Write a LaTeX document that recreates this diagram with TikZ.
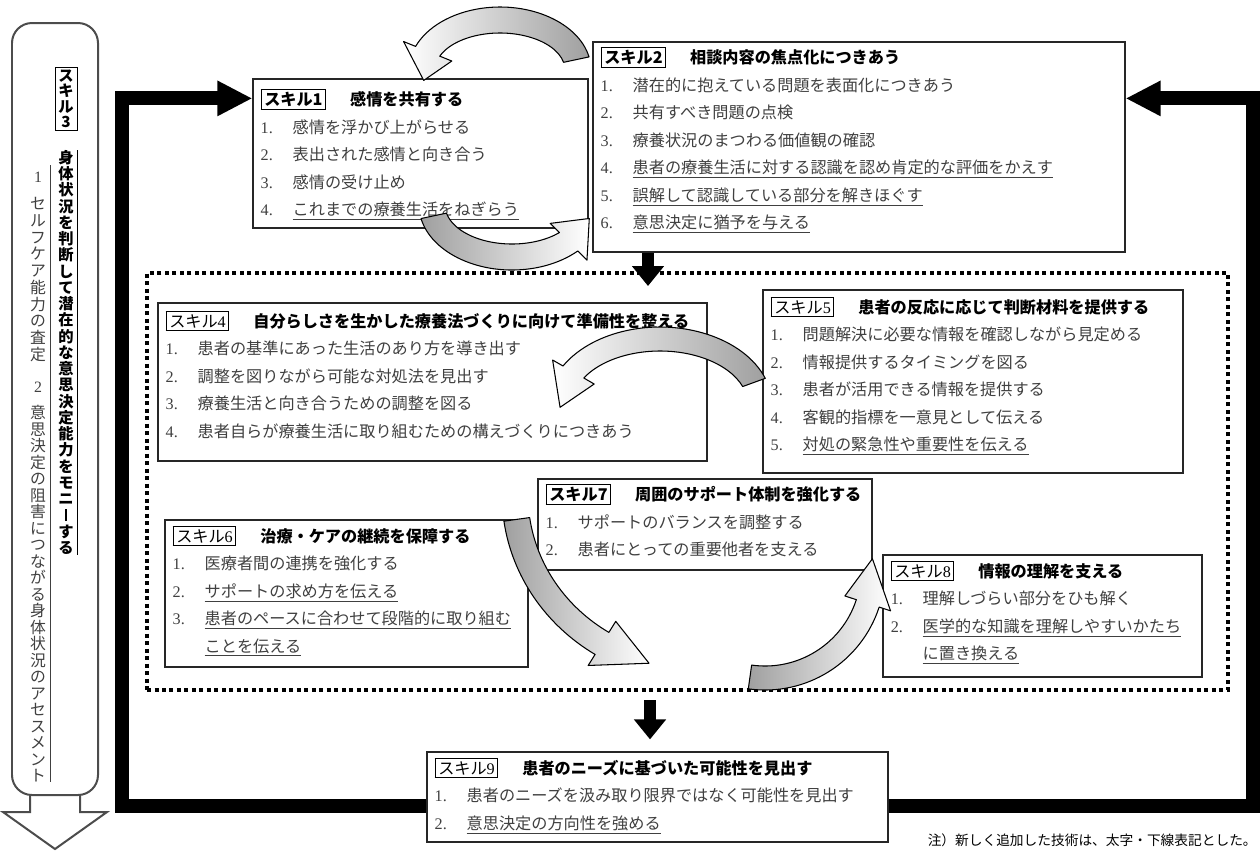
\documentclass[tikz,border=0pt]{standalone}
\usepackage{fontspec}
\usepackage{graphicx}
\setmainfont{Liberation Serif}
\newfontfamily\jp{Noto Sans CJK JP}
\usetikzlibrary{arrows.meta,calc,fit,positioning}
\setlength\fboxsep{1.5pt}
\setlength\fboxrule{0.5pt}

\newcommand\vstack[2]{\vbox{\baselineskip=#1\relax\lineskiplimit=-20pt\vstackA#2\relax}}
\def\vstackA#1{\ifx\relax#1\else\hbox to 1.1em{\hss#1\hss}\expandafter\vstackA\fi}
\newcommand\vbar{\rule[-0.02em]{0.11em}{0.82em}}
\newcommand\lab[1]{\fbox{#1}}
\newcommand\itm[2]{{\color{black!75}\makebox[0.64cm][l]{\rmfamily #1}#2}}
\newcommand\itmu[2]{{\color{black!75}\makebox[0.64cm][l]{\rmfamily #1}\underline{#2}}}
\newcommand\itmc[1]{{\color{black!75}\hspace*{0.64cm}\underline{#1}}}
\newcommand\bentarrow[9]{%
  \pgfmathsetmacro\rxo{#3+#8}\pgfmathsetmacro\ryo{#4+#8}%
  \pgfmathsetmacro\rxi{#3-#8}\pgfmathsetmacro\ryi{#4-#8}%
  \shadedraw[bent,#9]
    ({#1+\rxo*cos(#5)},{#2+\ryo*sin(#5)})
    arc[start angle=#5, end angle=#6, x radius=\rxo, y radius=\ryo]
    -- ({#1+(#3+2*#8)*cos(#6)},{#2+(#4+2*#8)*sin(#6)})
    -- ({#1+#3*cos(#7)},{#2+#4*sin(#7)})
    -- ({#1+(#3-2*#8)*cos(#6)},{#2+(#4-2*#8)*sin(#6)})
    -- ({#1+\rxi*cos(#6)},{#2+\ryi*sin(#6)})
    arc[start angle=#6, end angle=#5, x radius=\rxi, y radius=\ryi]
    -- cycle;}

\tikzset{
  skillbox/.style={draw=black!85, line width=0.7pt, fill=white, inner sep=0pt},
  skilltext/.style={anchor=north west, inner sep=0pt, align=left,
    font=\jp\fontsize{9.2pt}{15.65pt}\selectfont},
  dotframe/.style={draw, line width=0.08cm, dash pattern=on 0.08cm off 0.07cm, inner sep=0pt},
  frame/.style={line width=0.28cm, line join=miter, -{Triangle[length=0.7cm,width=0.66cm]}},
  drop/.style={line width=0.24cm, -{Triangle[length=0.4cm,width=0.62cm]}},
  bent/.style={draw=black, line width=0.6pt, line join=round},
  k3line/.style={draw=black!70, line width=0.04cm, line join=miter},
  vbold/.style={inner sep=0pt, font=\jp\bfseries\fontsize{8.7pt}{9pt}\selectfont},
  vlight/.style={inner sep=0pt, text=black!75, font=\jp\fontsize{9pt}{9pt}\selectfont},
}

\begin{document}
\begin{tikzpicture}[x=0.02cm, y=-0.02cm]
\useasboundingbox (0,0) rectangle (1260,850);

% skill 3
\draw[k3line, rounded corners=0.4cm] (12,23) rectangle (98,795);
\draw[k3line] (30,795) -- (30,812) -- (3,812) -- (55,849) -- (107,812) -- (80,812) -- (80,795);
\node[vbold, draw, inner sep=1.5pt] (k3) at (66,99) {\vstack{0.31cm}{スキル3}};
\node[vbold, anchor=north] (k3a) at (66,150)
  {\vstack{0.325cm}{身体状況を判断して潜在的な意思決定能力をモニ\vbar する}};
\draw ($(k3a.north east)+(3,0)$) -- ($(k3a.south east)+(3,0)$);
\node[vlight, font=\rmfamily\fontsize{9pt}{9pt}\selectfont] (k3n1) at (38,177) {1};
\node[vlight, anchor=north] (k3b) at (38,197) {\vstack{0.335cm}{セルフケア能力の査定}};
\node[vlight, font=\rmfamily\fontsize{9pt}{9pt}\selectfont] (k3n2) at (38,387) {2};
\node[vlight, anchor=north] (k3c) at (38,405)
  {\vstack{0.33cm}{意思決定の阻害につながる身体状況のアセスメント}};
\draw[black!75] ($(k3c.east |- k3n1.north)+(3,-6)$) -- ($(k3c.south east)+(3,0)$);

\node[dotframe, fit={(147,273) (1228,690)}] (grp) {};

\node[skillbox, fit={(253,79) (588,228)}] (s1) {};
\node[skillbox, fit={(593,42) (1125,252)}] (s2) {};
\node[skillbox, fit={(158,303) (707,461)}] (s4) {};
\node[skillbox, fit={(763,290) (1183,473)}] (s5) {};
\node[skillbox, fit={(165,520) (528,667)}] (s6) {};
\node[skillbox, fit={(538,479) (872,570)}] (s7) {};
\node[skillbox, fit={(883,555) (1202,677)}] (s8) {};
\node[skillbox, fit={(427,752) (888,842)}] (s9) {};

\node[skilltext] (s1t) at ($(s1.north west)+(8,10)$) {%
  \lab{\bfseries スキル1}\hspace{0.48cm}\textbf{感情を共有する}\\
  \itm{1.}{感情を浮かび上がらせる}\\
  \itm{2.}{表出された感情と向き合う}\\
  \itm{3.}{感情の受け止め}\\
  \itmu{4.}{これまでの療養生活をねぎらう}};
\node[skilltext] (s2t) at ($(s2.north west)+(8,5)$) {%
  \lab{\bfseries スキル2}\hspace{0.48cm}\textbf{相談内容の焦点化につきあう}\\
  \itm{1.}{潜在的に抱えている問題を表面化につきあう}\\
  \itm{2.}{共有すべき問題の点検}\\
  \itm{3.}{療養状況のまつわる価値観の確認}\\
  \itmu{4.}{患者の療養生活に対する認識を認め肯定的な評価をかえす}\\
  \itmu{5.}{誤解して認識している部分を解きほぐす}\\
  \itmu{6.}{意思決定に猶予を与える}};
\node[skilltext] (s4t) at ($(s4.north west)+(8,8)$) {%
  \lab{スキル{\rmfamily 4}}\hspace{0.48cm}\textbf{自分らしさを生かした療養法づくりに向けて準備性を整える}\\
  \itm{1.}{患者の基準にあった生活のあり方を導き出す}\\
  \itm{2.}{調整を図りながら可能な対処法を見出す}\\
  \itm{3.}{療養生活と向き合うための調整を図る}\\
  \itm{4.}{患者自らが療養生活に取り組むための構えづくりにつきあう}};
\node[skilltext] (s5t) at ($(s5.north west)+(8,7)$) {%
  \lab{スキル{\rmfamily 5}}\hspace{0.48cm}\textbf{患者の反応に応じて判断材料を提供する}\\
  \itm{1.}{問題解決に必要な情報を確認しながら見定める}\\
  \itm{2.}{情報提供するタイミングを図る}\\
  \itm{3.}{患者が活用できる情報を提供する}\\
  \itm{4.}{客観的指標を一意見として伝える}\\
  \itmu{5.}{対処の緊急性や重要性を伝える}};
\node[skilltext] (s6t) at ($(s6.north west)+(8,6)$) {%
  \lab{スキル{\rmfamily 6}}\hspace{0.48cm}\textbf{治療・ケアの継続を保障する}\\
  \itm{1.}{医療者間の連携を強化する}\\
  \itmu{2.}{サポートの求め方を伝える}\\
  \itmu{3.}{患者のペースに合わせて段階的に取り組む}\\
  \itmc{ことを伝える}};
\node[skilltext] (s7t) at ($(s7.north west)+(8,5)$) {%
  \lab{\bfseries スキル7}\hspace{0.48cm}\textbf{周囲のサポート体制を強化する}\\
  \itm{1.}{サポートのバランスを調整する}\\
  \itm{2.}{患者にとっての重要他者を支える}};
\node[skilltext] (s8t) at ($(s8.north west)+(8,6)$) {%
  \lab{スキル{\rmfamily 8}}\hspace{0.48cm}\textbf{情報の理解を支える}\\
  \itm{1.}{理解しづらい部分をひも解く}\\
  \itmu{2.}{医学的な知識を理解しやすいかたち}\\
  \itmc{に置き換える}};
\node[skilltext] (s9t) at ($(s9.north west)+(8,6)$) {%
  \lab{スキル{\rmfamily 9}}\hspace{0.48cm}\textbf{患者のニーズに基づいた可能性を見出す}\\
  \itm{1.}{患者のニーズを汲み取り限界ではなく可能性を見出す}\\
  \itmu{2.}{意思決定の方向性を強める}};

\node[anchor=east, inner sep=0pt, font=\jp\fontsize{7.8pt}{9pt}\selectfont] (note) at (1257,840)
  {注）新しく追加した技術は、太字・下線表記とした。};

% black frame back to skills 1 and 2
\coordinate (lb) at (122,806);
\coordinate (rb) at (1253,806);
\draw[frame] (s9.west |- lb) -- (lb) |- ($(s1.north west)+(0,20)$);
\draw[frame] (s9.east |- rb) -- (rb) |- ($(s2.north east)+(0,57)$);

% curved arrows
\bentarrow{500}{70}{78}{50}{-12}{-158}{-192}{13}{left color=white, right color=gray!75}
\bentarrow{512}{205}{80}{52}{168}{45}{15}{13}{left color=gray!75, right color=white}
\bentarrow{660}{405}{100}{66}{-20}{-150}{-182}{12}{left color=white, right color=gray!75}
\bentarrow{700}{495}{185}{175}{172}{122}{106}{13}{left color=gray!75, right color=white}
\bentarrow{765}{570}{108}{108}{98}{18}{-6}{12}{left color=gray!75, right color=white}

\coordinate (d1) at (648,0);
\coordinate (d2) at (650,0);
\draw[drop] (s2.south -| d1) -- ($(grp.north -| d1)+(0,15)$);
\draw[drop] ($(grp.south -| d2)+(0,8)$) -- ($(s9.north -| d2)+(0,-12)$);
\end{tikzpicture}
\end{document}
